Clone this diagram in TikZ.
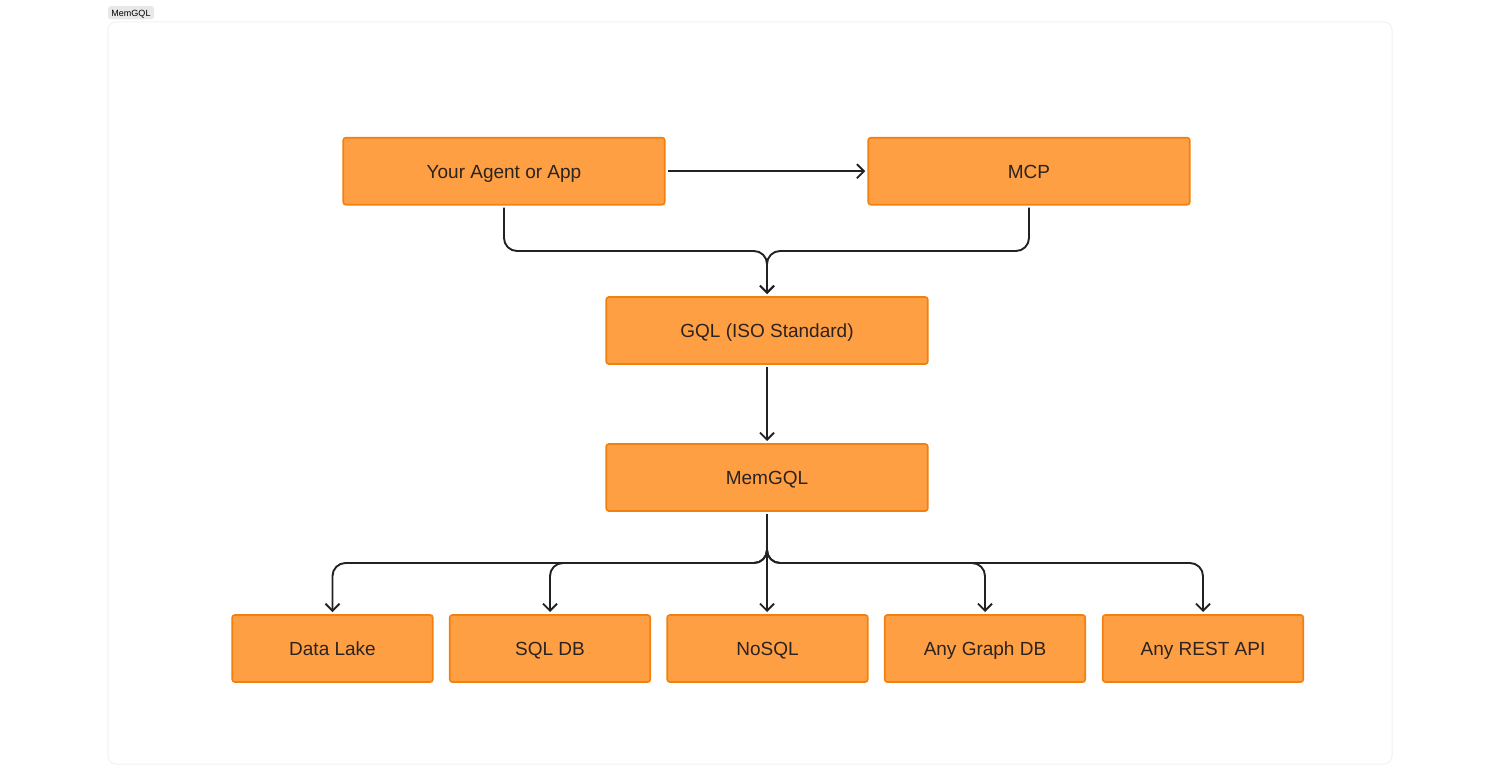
\documentclass[tikz,border=0pt]{standalone}
\usepackage{fontspec}
\setmainfont{Liberation Sans}
\usetikzlibrary{arrows.meta}
\definecolor{boxfill}{HTML}{FF9F43}
\definecolor{boxline}{HTML}{F2800F}
\definecolor{ink}{HTML}{2A2320}
\definecolor{lineink}{HTML}{222222}
\definecolor{framec}{HTML}{F1F1F1}
\definecolor{tagc}{HTML}{E8E8E8}
\tikzset{
  box/.style={draw=boxline,fill=boxfill,line width=1.6pt,rounded corners=2.5pt,minimum height=67pt,outer sep=3pt,text=ink,font=\fontsize{19}{22}\selectfont,inner sep=0pt,text height=16pt,text depth=2pt},
  widebox/.style={box,minimum width=321.5pt},
  smallbox/.style={box,minimum width=200.5pt},
  conn/.style={draw=lineink,line width=1.9pt,-{Straight Barb[length=7pt,width=14pt,line width=1.9pt]}},
  elbow/.style={conn,rounded corners=13pt}
}
\begin{document}
\begin{tikzpicture}[x=1pt,y=-1pt]
\useasboundingbox (0,0) rectangle (1500,784);
\node[draw=framec,line width=1pt,rounded corners=8pt,minimum width=1284pt,minimum height=742pt,inner sep=0pt] (frame) at (750,393) {};
\node[fill=tagc,rounded corners=3pt,minimum width=46pt,minimum height=13.5pt,inner sep=0pt,text=black,font=\fontsize{9}{10}\selectfont,text height=8pt,text depth=1pt] (tag) at (131,12.7) {MemGQL};
\node[widebox] (agent) at (504,171.2) {Your Agent or App};
\node[widebox] (mcp) at (1029,171.2) {MCP};
\node[widebox] (gql) at (767,330.5) {GQL (ISO Standard)};
\node[widebox] (mem) at (767,477.5) {MemGQL};
\node[smallbox] (lake) at (332.5,648.5) {Data Lake};
\node[smallbox] (sql) at (550,648.5) {SQL DB};
\node[smallbox] (nosql) at (767.5,648.5) {NoSQL};
\node[smallbox] (graph) at (985,648.5) {Any Graph DB};
\node[smallbox] (rest) at (1203,648.5) {Any REST API};
\coordinate (upper) at (767,251);
\coordinate (lower) at (767,563);
\draw[conn] (agent) -- (mcp);
\draw[elbow] (agent.south) -- (agent.south|-upper) -- (upper) -- (gql.north);
\draw[elbow] (mcp.south) -- (mcp.south|-upper) -- (upper) -- (gql.north);
\draw[conn] (gql) -- (mem);
\draw[elbow] (mem.south) -- (lower) -- (lower-|lake.north) -- (lake.north);
\draw[elbow] (mem.south) -- (lower) -- (lower-|sql.north) -- (sql.north);
\draw[conn] (mem.south) -- (mem.south|-nosql.north);
\draw[elbow] (mem.south) -- (lower) -- (lower-|graph.north) -- (graph.north);
\draw[elbow] (mem.south) -- (lower) -- (lower-|rest.north) -- (rest.north);
\end{tikzpicture}
\end{document}
